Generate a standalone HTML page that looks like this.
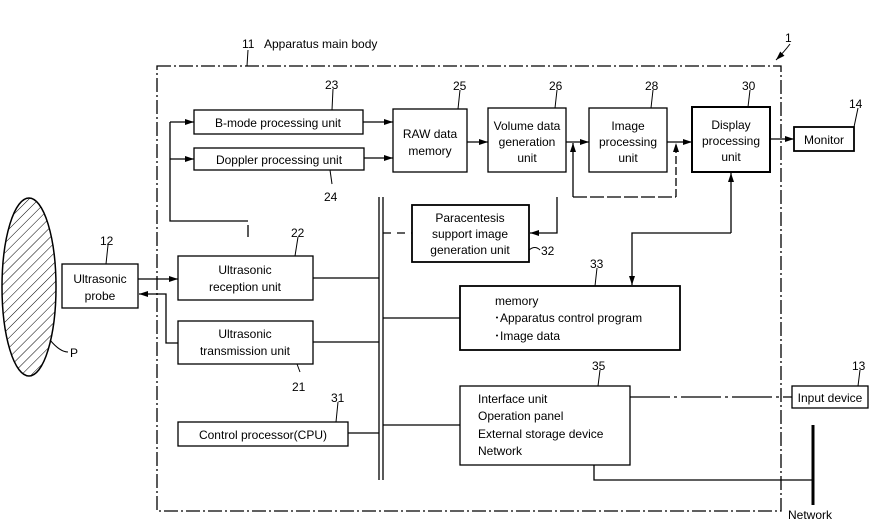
<!DOCTYPE html>
<html><head><meta charset="utf-8"><style>
html,body{margin:0;padding:0;background:#fff;}
svg{display:block;}
text{font-family:"Liberation Sans",sans-serif;font-size:12px;fill:#000;}
</style></head><body>
<svg width="872" height="520" viewBox="0 0 872 520" xmlns="http://www.w3.org/2000/svg">
<defs>
<marker id="a" markerWidth="10" markerHeight="8" refX="9" refY="4" orient="auto" markerUnits="userSpaceOnUse"><path d="M0,1 L9,4 L0,7 Z" fill="#000"/></marker>
<pattern id="h" width="7" height="7" patternUnits="userSpaceOnUse" patternTransform="rotate(45)"><line x1="0" y1="0" x2="0" y2="7" stroke="#000" stroke-width="1"/></pattern>
</defs>
<g fill="none" stroke="#000" stroke-width="1.3">
<rect x="157" y="66" width="624" height="445" stroke-dasharray="14,3,2,3"/>
<path d="M248,50 L247,66" stroke-width="1"/>
<path d="M790,44 Q784,52 776,60" stroke-width="1" marker-end="url(#a)"/>
<ellipse cx="29" cy="287" rx="27" ry="89" fill="url(#h)" stroke-width="1.5"/>
<path d="M50,340 Q60,352 68,352" stroke-width="1"/>
<rect x="62" y="264" width="76" height="44"/>
<rect x="178" y="256" width="135" height="44"/>
<rect x="178" y="321" width="135" height="43"/>
<rect x="178" y="422" width="170" height="24"/>
<rect x="194" y="110" width="169" height="24"/>
<rect x="194" y="148" width="170" height="22"/>
<rect x="393" y="109" width="74" height="63"/>
<rect x="488" y="108" width="78" height="64"/>
<rect x="589" y="108" width="78" height="64"/>
<rect x="692" y="107" width="78" height="65" stroke-width="2"/>
<rect x="794" y="127" width="60" height="24" stroke-width="1.8"/>
<rect x="412" y="205" width="117" height="57" stroke-width="1.8"/>
<rect x="460" y="286" width="220" height="64" stroke-width="1.8"/>
<rect x="460" y="386" width="170" height="79"/>
<rect x="792" y="386" width="76" height="22"/>
<line x1="379" y1="197" x2="379" y2="480"/>
<line x1="383" y1="197" x2="383" y2="480"/>
<path d="M248,221 L170,221 L170,122"/>
<path d="M248,225 L248,237"/>
<line x1="170" y1="122" x2="194" y2="122" marker-end="url(#a)"/>
<line x1="170" y1="159" x2="194" y2="159" marker-end="url(#a)"/>
<line x1="363" y1="122" x2="393" y2="122" marker-end="url(#a)"/>
<line x1="364" y1="158" x2="393" y2="158" marker-end="url(#a)"/>
<line x1="467" y1="142" x2="488" y2="142" marker-end="url(#a)"/>
<line x1="566" y1="142" x2="589" y2="142" marker-end="url(#a)"/>
<line x1="667" y1="142" x2="692" y2="142" marker-end="url(#a)"/>
<line x1="770" y1="139" x2="794" y2="139" marker-end="url(#a)"/>
<line x1="573" y1="197" x2="573" y2="143" marker-end="url(#a)"/>
<line x1="676" y1="197" x2="676" y2="143" marker-end="url(#a)" stroke-dasharray="8,3"/>
<line x1="573" y1="197" x2="676" y2="197" stroke-dasharray="14,3"/>
<path d="M557,197 L557,233 L530,233" marker-end="url(#a)"/>
<line x1="383" y1="233" x2="412" y2="233" stroke-dasharray="8,6"/>
<path d="M731,233 L731,173" marker-end="url(#a)"/>
<path d="M731,233 L632,233 L632,285" marker-end="url(#a)"/>
<line x1="138" y1="279" x2="178" y2="279" marker-end="url(#a)"/>
<path d="M178,343 L166,343 L166,294 L139,294" marker-end="url(#a)"/>
<line x1="313" y1="278" x2="379" y2="278"/>
<line x1="313" y1="342" x2="379" y2="342"/>
<line x1="348" y1="433" x2="379" y2="433"/>
<line x1="383" y1="318" x2="460" y2="318"/>
<line x1="383" y1="425" x2="460" y2="425"/>
<line x1="630" y1="397" x2="792" y2="397" stroke-dasharray="40,4,3,4"/>
<path d="M594,465 L594,480 L813,480"/>
<line x1="813" y1="425" x2="813" y2="505" stroke-width="3"/>
<g stroke-width="1">
<path d="M108,245 L106,264"/><path d="M298,237 L295,256"/><path d="M300,372 L297,364"/>
<path d="M338,402 L336,422"/><path d="M333,89 L332,110"/><path d="M332,184 L330,170"/>
<path d="M460,90 L458,109"/><path d="M557,90 L555,108"/><path d="M653,90 L651,108"/>
<path d="M750,90 L748,107"/><path d="M858,108 L854,127"/><path d="M597,268 L595,286"/>
<path d="M600,370 L598,386"/><path d="M860,370 L858,386"/><path d="M529,250 Q535,245 540,250"/>
</g>
</g>
<g>
<text x="264" y="48">Apparatus main body</text><text x="242" y="48">11</text>
<text x="785" y="42" font-size="14">1</text>
<text x="100" y="245">12</text><text x="291" y="237">22</text><text x="292" y="391">21</text><text x="331" y="402">31</text>
<text x="325" y="89">23</text><text x="324" y="201">24</text><text x="453" y="90">25</text><text x="549" y="90">26</text>
<text x="645" y="90">28</text><text x="742" y="90">30</text><text x="849" y="108">14</text><text x="541" y="255">32</text>
<text x="590" y="268">33</text><text x="592" y="370">35</text><text x="852" y="370">13</text>
<text x="70" y="357">P</text>
<g text-anchor="middle">
<text x="100" y="283">Ultrasonic</text><text x="100" y="300">probe</text>
<text x="245" y="274">Ultrasonic</text><text x="245" y="291">reception unit</text>
<text x="245" y="338">Ultrasonic</text><text x="245" y="355">transmission unit</text>
<text x="263" y="439">Control processor(CPU)</text>
<text x="278" y="127">B-mode processing unit</text>
<text x="279" y="164">Doppler processing unit</text>
<text x="430" y="138">RAW data</text><text x="430" y="155">memory</text>
<text x="527" y="130">Volume data</text><text x="527" y="146">generation</text><text x="527" y="162">unit</text>
<text x="628" y="130">Image</text><text x="628" y="146">processing</text><text x="628" y="162">unit</text>
<text x="731" y="129">Display</text><text x="731" y="145">processing</text><text x="731" y="161">unit</text>
<text x="824" y="144">Monitor</text>
<text x="470" y="222">Paracentesis</text><text x="470" y="238">support image</text><text x="470" y="254">generation unit</text>
<text x="830" y="402">Input device</text>
</g>
<text x="495" y="305">memory</text><text x="494" y="322">･Apparatus control program</text><text x="494" y="340">･Image data</text>
<text x="478" y="403">Interface unit</text><text x="478" y="420">Operation panel</text><text x="478" y="438">External storage device</text><text x="478" y="455">Network</text>
<text x="788" y="519">Network</text>
</g>
</svg>
</body></html>
